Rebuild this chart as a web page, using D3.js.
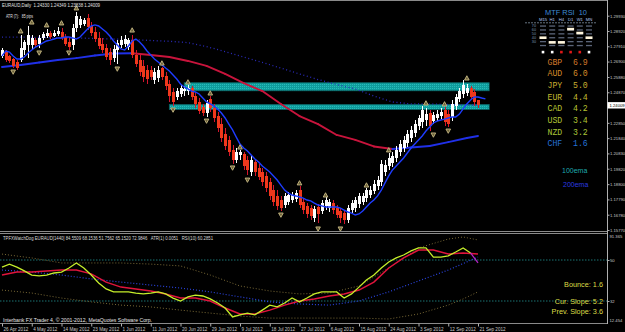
<!DOCTYPE html>
<html><head><meta charset="utf-8">
<script src="https://cdn.jsdelivr.net/npm/d3@7"></script>
<style>html,body{margin:0;padding:0;background:#000;overflow:hidden}text{white-space:pre}</style>
</head><body><svg id="c" width="625" height="332"></svg>
<script>
// ---------- DATA ----------
const opens=[1.2727,1.2760,1.2727,1.2707,1.2687,1.2700,1.2766,1.2799,1.2799,1.2832,
1.2806,1.2846,1.2859,1.2879,1.2859,1.2872,1.2885,1.2852,1.2819,1.2799,
1.2912,1.2932,1.2938,1.2978,1.2925,1.2885,1.2846,1.2806,1.2780,1.2753,
1.2713,1.2766,1.2799,1.2806,1.2786,1.2832,1.2733,1.2700,1.2661,1.2634,
1.2634,1.2568,1.2581,1.2647,1.2595,1.2542,1.2489,1.2456,1.2476,1.2495,
1.2495,1.2515,1.2462,1.2423,1.2390,1.2350,1.2443,1.2383,1.2330,1.2277,
1.2211,1.2172,1.2106,1.2040,1.2073,1.2079,1.2040,1.1960,1.2026,1.1987,
1.1960,1.1934,1.1894,1.1841,1.1802,1.1775,1.1742,1.1762,1.1775,1.1782,
1.1841,1.1762,1.1736,1.1722,1.1656,1.1729,1.1702,1.1736,1.1722,1.1755,
1.1722,1.1702,1.1689,1.1643,1.1709,1.1722,1.1749,1.1762,1.1788,1.1808,
1.1835,1.1868,1.1894,1.1960,1.2000,1.2020,1.2053,1.2092,1.2119,1.2152,
1.2185,1.2218,1.2264,1.2291,1.2304,1.2350,1.2297,1.2317,1.2330,1.2370,
1.2343,1.2324,1.2396,1.2443,1.2476,1.2482,1.2515,1.2489,1.2433];
const highs=[1.2780,1.2766,1.2733,1.2713,1.2700,1.2865,1.2832,1.2925,1.2865,1.2846,
1.2865,1.2885,1.2905,1.2892,1.2898,1.2918,1.2912,1.2872,1.2852,1.2938,
1.3017,1.2991,1.2978,1.3004,1.2951,1.2918,1.2885,1.2846,1.2806,1.2780,
1.2799,1.2832,1.2859,1.2865,1.2846,1.2865,1.2766,1.2733,1.2700,1.2667,
1.2661,1.2647,1.2661,1.2654,1.2621,1.2568,1.2515,1.2515,1.2535,1.2528,
1.2535,1.2528,1.2489,1.2449,1.2410,1.2436,1.2462,1.2410,1.2357,1.2317,
1.2251,1.2198,1.2139,1.2119,1.2106,1.2092,1.2066,1.2066,1.2040,1.2013,
1.1987,1.1960,1.1921,1.1874,1.1841,1.1802,1.1821,1.1828,1.1828,1.1841,
1.1868,1.1788,1.1755,1.1742,1.1736,1.1749,1.1775,1.1795,1.1782,1.1775,
1.1742,1.1722,1.1709,1.1742,1.1775,1.1795,1.1821,1.1821,1.1854,1.1868,
1.1907,1.1934,1.2040,1.2040,1.2086,1.2092,1.2132,1.2172,1.2198,1.2238,
1.2264,1.2304,1.2337,1.2396,1.2383,1.2370,1.2357,1.2370,1.2383,1.2390,
1.2370,1.2436,1.2476,1.2515,1.2568,1.2542,1.2528,1.2509,1.2435];
const lows=[1.2713,1.2687,1.2680,1.2647,1.2634,1.2687,1.2733,1.2713,1.2766,1.2786,
1.2780,1.2832,1.2846,1.2839,1.2852,1.2859,1.2832,1.2793,1.2766,1.2766,
1.2885,1.2912,1.2925,1.2898,1.2859,1.2819,1.2773,1.2747,1.2700,1.2667,
1.2687,1.2674,1.2780,1.2786,1.2766,1.2713,1.2654,1.2595,1.2555,1.2542,
1.2568,1.2542,1.2555,1.2568,1.2502,1.2423,1.2396,1.2436,1.2456,1.2462,
1.2469,1.2436,1.2383,1.2343,1.2330,1.2324,1.2357,1.2291,1.2224,1.2158,
1.2106,1.2066,1.2013,1.2020,1.2040,1.1974,1.1940,1.1934,1.1934,1.1907,
1.1868,1.1828,1.1775,1.1736,1.1709,1.1702,1.1722,1.1742,1.1755,1.1762,
1.1722,1.1683,1.1656,1.1643,1.1630,1.1623,1.1683,1.1709,1.1696,1.1683,
1.1656,1.1623,1.1617,1.1623,1.1683,1.1696,1.1722,1.1742,1.1762,1.1788,
1.1815,1.1841,1.1868,1.1934,1.1974,1.1993,1.2026,1.2066,1.2092,1.2125,
1.2158,1.2191,1.2238,1.2251,1.2264,1.2231,1.2277,1.2297,1.2310,1.2264,
1.2258,1.2297,1.2370,1.2423,1.2449,1.2462,1.2436,1.2396,1.2384];
const closes=[1.2766,1.2700,1.2694,1.2661,1.2647,1.2780,1.2819,1.2865,1.2846,1.2799,
1.2846,1.2872,1.2879,1.2852,1.2879,1.2892,1.2846,1.2806,1.2786,1.2912,
1.2991,1.2971,1.2965,1.2918,1.2879,1.2839,1.2793,1.2766,1.2720,1.2700,
1.2773,1.2813,1.2832,1.2839,1.2832,1.2733,1.2674,1.2621,1.2588,1.2575,
1.2588,1.2621,1.2634,1.2588,1.2528,1.2462,1.2423,1.2495,1.2515,1.2509,
1.2515,1.2456,1.2410,1.2363,1.2350,1.2416,1.2383,1.2317,1.2251,1.2185,
1.2132,1.2092,1.2040,1.2092,1.2092,1.2000,1.1974,1.2040,1.1960,1.1927,
1.1894,1.1854,1.1802,1.1762,1.1736,1.1722,1.1802,1.1808,1.1808,1.1821,
1.1742,1.1709,1.1683,1.1669,1.1716,1.1683,1.1755,1.1775,1.1762,1.1709,
1.1676,1.1656,1.1643,1.1722,1.1755,1.1775,1.1802,1.1802,1.1841,1.1841,
1.1881,1.1907,1.2013,1.2007,1.2053,1.2066,1.2106,1.2145,1.2172,1.2211,
1.2238,1.2277,1.2317,1.2370,1.2343,1.2264,1.2337,1.2343,1.2357,1.2291,
1.2277,1.2410,1.2456,1.2495,1.2535,1.2515,1.2456,1.2423,1.2401];

const fastMA=[1.2727,1.2760,1.2753,1.2727,1.2707,1.2707,1.2720,1.2747,1.2766,1.2786,
1.2799,1.2813,1.2826,1.2832,1.2839,1.2846,1.2846,1.2852,1.2852,1.2846,
1.2839,1.2852,1.2879,1.2905,1.2925,1.2932,1.2925,1.2905,1.2885,1.2859,
1.2826,1.2799,1.2773,1.2766,1.2793,1.2826,1.2839,1.2819,1.2793,1.2760,
1.2733,1.2707,1.2687,1.2667,1.2647,1.2628,1.2601,1.2575,1.2542,1.2522,
1.2509,1.2495,1.2489,1.2476,1.2449,1.2423,1.2410,1.2396,1.2377,1.2350,
1.2317,1.2277,1.2238,1.2191,1.2145,1.2119,1.2099,1.2073,1.2046,1.2026,
1.2000,1.1980,1.1960,1.1934,1.1907,1.1874,1.1841,1.1821,1.1808,1.1802,
1.1795,1.1788,1.1775,1.1769,1.1755,1.1742,1.1736,1.1729,1.1729,1.1729,
1.1729,1.1722,1.1709,1.1696,1.1689,1.1676,1.1683,1.1702,1.1729,1.1755,
1.1775,1.1802,1.1841,1.1888,1.1934,1.1974,1.2000,1.2026,1.2053,1.2086,
1.2119,1.2145,1.2172,1.2198,1.2231,1.2258,1.2284,1.2297,1.2304,1.2310,
1.2317,1.2324,1.2324,1.2343,1.2377,1.2410,1.2436,1.2456,1.2456,1.2449,1.2443];

const maIdx=[0,5,10,15,20,25,30,35,40,45,50,55,60,65,70,75,80,85,90,95,100,105,110,115,120,125,128];
const slowMA=[1.2654,1.2667,1.2684,1.2700,1.2713,1.2730,1.2743,1.2745,1.2733,1.2720,1.2694,1.2661,1.2608,1.2548,1.2495,1.2410,1.2330,1.2277,1.2205,1.2172,1.2129,1.2112,1.2122,1.2132,1.2158,1.2185,1.2198];
const trendMA=[1.2852,1.2852,1.2849,1.2846,1.2846,1.2842,1.2839,1.2836,1.2829,1.2824,1.2815,1.2789,1.2756,1.2720,1.2684,1.2647,1.2608,1.2571,1.2538,1.2509,1.2462,1.2423,1.2410,1.2410,1.2406,1.2403,1.2403];

const upIdx=[5,8,12,16,20,35,43,50,56,64,80,87,98,104,114,119,125];
const upPrice=[1.2892,1.2951,1.2932,1.2945,1.3044,1.2898,1.2680,1.2555,1.2482,1.2125,1.1888,1.1808,1.1874,1.2106,1.2416,1.2410,1.2581];
const dnIdx=[3,10,18,31,46,55,62,66,75,85,91,116,120];
const dnPrice=[1.2621,1.2747,1.2747,1.2641,1.2370,1.2297,1.1987,1.1907,1.1676,1.1584,1.1584,1.2205,1.2231];

const zoneStart=[49,45], zoneEnd=[131,131], zoneTop=[1.2550,1.2406], zoneBottom=[1.2497,1.2373];

const priceTicks=[1.2993,1.2892,1.2791,1.2690,1.2588,1.2487,1.2386,1.2285,1.2184,1.2083,1.1982,1.1880,1.1779,1.1678,1.1577];
const lastPrice=1.24009;
const dateIdx=[0,8,16,24,32,40,48,56,64,72,80,88,96,104,112,120,128];
const dateLabels=["26 Apr 2012","4 May 2012","14 May 2012","23 May 2012","1 Jun 2012","11 Jun 2012","20 Jun 2012","29 Jun 2012","9 Jul 2012","18 Jul 2012","27 Jul 2012","6 Aug 2012","15 Aug 2012","24 Aug 2012","3 Sep 2012","12 Sep 2012","21 Sep 2012"];

// sub-window indicator
const yellowIdx=d3.range(0,129,2);
const yellowVal=[46.9,48.2,46.9,45.2,43.4,43.0,43.4,44.3,44.7,46.5,
48.7,46.5,43.4,39.9,37.3,36.0,36.0,36.0,35.5,35.1,
35.5,36.0,35.1,33.3,32.0,33.8,34.6,34.2,32.9,31.1,
28.9,25.0,25.9,26.7,25.9,28.0,30.2,29.4,31.1,33.3,
31.6,33.3,35.1,36.0,36.0,36.0,33.3,35.1,38.1,41.2,
43.4,46.5,49.1,50.9,52.2,54.0,55.3,55.3,51.3,51.3,
51.8,53.5,55.3,53.1,48.7];
const redIdx=d3.range(0,129,4);
const redVal=[43.4,44.7,44.7,45.2,45.6,45.6,43.9,40.3,38.1,37.3,36.4,35.1,33.3,33.3,32.0,28.9,26.3,26.3,28.0,30.2,32.0,32.9,34.2,35.1,36.8,40.3,46.5,50.9,54.4,54.4,52.6,53.1,52.6];
const blueIdx=d3.range(0,129,8);
const blueVal=[45.6,44.7,43.4,41.7,40.3,39.0,37.7,36.0,33.8,31.6,30.7,30.2,32.0,36.0,40.8,45.6,51.3];
const bandIdx=[0,8,16,24,32,40,48,56,64,72,80,88,96,104,112,120,124,128];
const bandUpper=[52.6,50.9,48.7,48.7,48.7,48.2,47.4,43.4,38.6,36.4,35.1,35.5,38.6,46.5,55.3,59.2,60.1,58.8];
const bandLower=[36.8,35.5,33.3,31.6,30.2,29.4,28.0,26.7,25.4,24.5,24.5,24.5,24.5,24.1,26.3,30.2,32.9,36.0];
const subLevels=[50,32];

// MTF RSI and currency strength
const tfs=["M15","H1","H4","D1","W1","MN"];
const tfRsi=[40,28,28,62,52,40];
const tfUp=[true,true,false,false,false,true];
const rsiRows=[70,60,50,40,30,20];
const currencies=["GBP","AUD","JPY","EUR","CAD","USD","NZD","CHF"];
const strength=[6.9,6.0,5.0,4.4,4.2,3.4,3.2,1.6];
const curColors=["#d2782a","#d68c28","#c8ae30","#c2ba30","#b8c232","#b2c434","#aac438","#2472d8"];

// ---------- DRAW ----------
const svg=d3.select('#c');
const F="'Liberation Sans',Arial,sans-serif";
svg.append('rect').attr('width',625).attr('height',332).attr('fill','#000');
const defs=svg.append('defs');
defs.append('clipPath').attr('id','cm').append('rect').attr('x',0).attr('y',1).attr('width',607).attr('height',230);
defs.append('clipPath').attr('id','cs').append('rect').attr('x',0).attr('y',234).attr('width',607).attr('height',89);
const pat=defs.append('pattern').attr('id','teal').attr('width',2).attr('height',2).attr('patternUnits','userSpaceOnUse');
pat.append('rect').attr('width',2).attr('height',2).attr('fill','#109c9c');
pat.append('rect').attr('width',1).attr('height',1).attr('fill','#26bcbc');

const x=d3.scaleLinear().domain([0,128]).range([2,478]);
const y=d3.scaleLinear().domain([1.1577,1.2993]).range([230,15.7]);
const ys=d3.scaleLinear().domain([32,50]).range([301,260]);

// frame
const fr=svg.append('g').attr('stroke','#8a8a8a').attr('stroke-width',1).attr('shape-rendering','crispEdges');
fr.append('line').attr('x1',0).attr('x2',607).attr('y1',0.5).attr('y2',0.5);
fr.append('line').attr('x1',0).attr('x2',607).attr('y1',231.5).attr('y2',231.5);
fr.append('line').attr('x1',0).attr('x2',607).attr('y1',233.5).attr('y2',233.5);
fr.append('line').attr('x1',0).attr('x2',607).attr('y1',323.5).attr('y2',323.5);
fr.append('line').attr('x1',607.5).attr('x2',607.5).attr('y1',0).attr('y2',324).attr('stroke','#b0b0b0');

const main=svg.append('g').attr('clip-path','url(#cm)');
// zones
main.selectAll('rect.zone').data(zoneStart).join('rect').attr('class','zone')
 .attr('x',(d)=>x(d)).attr('width',(d,i)=>x(zoneEnd[i])-x(d))
 .attr('y',(d,i)=>y(zoneTop[i])).attr('height',(d,i)=>y(zoneBottom[i])-y(zoneTop[i]))
 .attr('fill','url(#teal)').attr('stroke','#0a6464').attr('stroke-width',0.8);

// trend (dotted) MA
main.append('path').datum(trendMA).attr('fill','none').attr('stroke','#2a2ab8').attr('stroke-width',1.3)
 .attr('stroke-dasharray','1,2.6')
 .attr('d',d3.line().x((d,i)=>x(maIdx[i])).y(d=>y(d)));

// slow colour-changing MA
for(let k=0;k<slowMA.length-1;k++){
  const up=slowMA[k+1]>=slowMA[k];
  main.append('line').attr('x1',x(maIdx[k])).attr('y1',y(slowMA[k])).attr('x2',x(maIdx[k+1])).attr('y2',y(slowMA[k+1]))
   .attr('stroke',up?'#2030e8':'#c8143c').attr('stroke-width',1.9).attr('stroke-linecap','round');
}

// candles
const bars=opens.map((o,i)=>({i,o,h:highs[i],l:lows[i],c:closes[i]}));
const cg=main.append('g').attr('shape-rendering','crispEdges');
cg.selectAll('line.w').data(bars).join('line').attr('class','w')
 .attr('x1',d=>Math.round(x(d.i))+0.5).attr('x2',d=>Math.round(x(d.i))+0.5)
 .attr('y1',d=>y(d.h)).attr('y2',d=>y(d.l))
 .attr('stroke',d=>d.c>=d.o?'#ffffff':'#d4142c').attr('stroke-width',1);
cg.selectAll('rect.b').data(bars).join('rect').attr('class','b')
 .attr('x',d=>Math.round(x(d.i))-1).attr('width',3)
 .attr('y',d=>y(Math.max(d.o,d.c))).attr('height',d=>Math.max(1,Math.abs(y(d.o)-y(d.c))))
 .attr('fill',d=>d.c>=d.o?'#ffffff':'#f0381c');

// fast MA
main.append('path').datum(fastMA).attr('fill','none').attr('stroke','#1e3cff').attr('stroke-width',1.4)
 .attr('d',d3.line().x((d,i)=>x(i)).y(d=>y(d)));

// fractal markers
const mk=main.append('g').attr('fill','#6a6038').attr('stroke','#c8ba84').attr('stroke-width',0.9);
mk.selectAll('path.u').data(upIdx).join('path')
 .attr('d',(d,i)=>{const cx=x(d),cy=y(upPrice[i]);return `M${cx-2.3},${cy+2}L${cx},${cy-2.3}L${cx+2.3},${cy+2}Z`;});
mk.selectAll('path.d').data(dnIdx).join('path')
 .attr('d',(d,i)=>{const cx=x(d),cy=y(dnPrice[i]);return `M${cx-2.3},${cy-2}L${cx},${cy+2.3}L${cx+2.3},${cy-2}Z`;});

// price axis
const AX=4.2;
const pa=svg.append('g').attr('transform','translate(607.5,0)')
 .call(d3.axisRight(y).tickValues(priceTicks.filter(p=>Math.abs(y(p)-y(lastPrice))>6)).tickSize(2).tickFormat(d3.format('.5f')));
pa.select('.domain').remove();
pa.selectAll('line').attr('stroke','#b0b0b0');
pa.selectAll('text').attr('fill','#c8c8c8').attr('font-size',AX).attr('font-family',F).attr('x',2.5);
svg.append('rect').attr('x',607.5).attr('y',y(lastPrice)-3.2).attr('width',17.5).attr('height',6.4).attr('fill','#ffffff');
svg.append('text').attr('x',609.5).attr('y',y(lastPrice)+1.5).text(d3.format('.5f')(lastPrice))
 .attr('fill','#000').attr('font-size',AX).attr('font-family',F);

// texts main
svg.append('text').attr('x',2).attr('y',6.8).text('EURAUD,Daily  1.24330 1.24349 1.23838 1.24009')
 .attr('fill','#e0e0e0').attr('font-size',4.8).attr('font-family',F).attr('textLength',98).attr('lengthAdjust','spacingAndGlyphs');
svg.append('text').attr('x',6).attr('y',17.5).text('ATR (7):   85 pips')
 .attr('fill','#e0e0e0').attr('font-size',4.8).attr('font-family',F).attr('textLength',27).attr('lengthAdjust','spacingAndGlyphs');

// MTF RSI panel
svg.append('text').attr('x',566).attr('y',14.8).attr('text-anchor','middle').text('MTF RSI  10')
 .attr('fill','#3d8ad6').attr('font-size',7.6).attr('font-family',F).attr('textLength',42).attr('lengthAdjust','spacingAndGlyphs');
const tx=d3.scalePoint().domain(tfs).range([543,589]);
const ry=d3.scaleLinear().domain([20,70]).range([45.5,26]);
svg.selectAll('text.tf').data(tfs).join('text').attr('class','tf').attr('x',d=>tx(d)).attr('y',20.5)
 .attr('text-anchor','middle').text(d=>d).attr('fill','#b4c8f0').attr('font-size',4.2).attr('font-family',F);
svg.append('line').attr('x1',525).attr('x2',597).attr('y1',22.8).attr('y2',22.8).attr('stroke','#8090a0')
 .attr('stroke-width',0.8).attr('stroke-dasharray','2,1');
svg.selectAll('text.rr').data(rsiRows.slice(0,5)).join('text').attr('class','rr').attr('x',536).attr('y',d=>ry(d)+1.4)
 .attr('text-anchor','end').text(d=>d).attr('fill','#7890b0').attr('font-size',3.8).attr('font-family',F);
const cells=[];tfs.forEach(t=>rsiRows.forEach(r=>cells.push({t,r})));
svg.selectAll('rect.cell').data(cells).join('rect').attr('class','cell')
 .attr('x',d=>tx(d.t)-3).attr('y',d=>ry(d.r)-0.6).attr('width',6).attr('height',1.3).attr('fill','#5a6478');
svg.selectAll('rect.hl').data(tfs).join('rect').attr('class','hl')
 .attr('x',d=>tx(d)-3.5).attr('y',(d,i)=>ry(tfRsi[i])-1.3).attr('width',7).attr('height',2.6).attr('fill','#fff6dc');
svg.selectAll('rect.dot').data(tfs).join('rect').attr('class','dot')
 .attr('x',d=>tx(d)-1.3).attr('y',50.8).attr('width',2.6).attr('height',2.6).attr('fill',(d,i)=>tfUp[i]?'#ffffff':'#e01818');

// currency strength
const cy=d3.scalePoint().domain(currencies).range([64.8,146.4]);
svg.selectAll('text.cn').data(currencies).join('text').attr('class','cn').attr('x',547.5).attr('y',d=>cy(d))
 .text(d=>d).attr('fill',(d,i)=>curColors[i]).attr('font-size',8.2).attr('font-family',"'Liberation Mono',monospace");
svg.selectAll('text.cv').data(currencies).join('text').attr('class','cv').attr('x',573).attr('y',d=>cy(d))
 .text((d,i)=>d3.format('.1f')(strength[i])).attr('fill',(d,i)=>curColors[i]).attr('font-size',8.2).attr('font-family',"'Liberation Mono',monospace");
svg.append('text').attr('x',562).attr('y',173.3).text('100ema').attr('fill','#1eaab0').attr('font-size',7).attr('font-family',F);
svg.append('text').attr('x',563).attr('y',186.6).text('200ema').attr('fill','#2a3ae0').attr('font-size',7).attr('font-family',F);

// ---------- SUB WINDOW ----------
const sub=svg.append('g').attr('clip-path','url(#cs)');
sub.selectAll('line.lv').data(subLevels).join('line').attr('x1',0).attr('x2',607).attr('y1',d=>ys(d)).attr('y2',d=>ys(d))
 .attr('stroke','#1e8080').attr('stroke-width',0.9).attr('stroke-dasharray','1.5,1.5');
const sl=(idx)=>d3.line().x((d,i)=>x(idx[i])).y(d=>ys(d));
sub.append('path').datum(bandUpper).attr('d',sl(bandIdx)).attr('fill','none').attr('stroke','#7a6a36').attr('stroke-width',1).attr('stroke-dasharray','1,2');
sub.append('path').datum(bandLower).attr('d',sl(bandIdx)).attr('fill','none').attr('stroke','#7a6a36').attr('stroke-width',1).attr('stroke-dasharray','1,2');
sub.append('path').datum(blueVal).attr('d',sl(blueIdx)).attr('fill','none').attr('stroke','#2a44e0').attr('stroke-width',1.2).attr('stroke-dasharray','1,2');
sub.append('path').datum(redVal).attr('d',sl(redIdx)).attr('fill','none').attr('stroke','#e0143c').attr('stroke-width',1.5);
const yl=yellowVal.length;
sub.append('path').datum(yellowVal.slice(0,yl-1)).attr('d',sl(yellowIdx)).attr('fill','none').attr('stroke','#c6ee2a').attr('stroke-width',1.3);
sub.append('path').datum(yellowVal.slice(yl-2)).attr('d',sl(yellowIdx.slice(yl-2))).attr('fill','none').attr('stroke','#b824c8').attr('stroke-width',1.3);

const sa=svg.append('g').attr('transform','translate(607.5,0)').call(d3.axisRight(ys).tickValues(subLevels).tickSize(2));
sa.select('.domain').remove();
sa.selectAll('line').attr('stroke','#b0b0b0');
sa.selectAll('text').attr('fill','#c8c8c8').attr('font-size',AX).attr('font-family',F).attr('x',2.5);
svg.append('text').attr('x',609.5).attr('y',238).text('91.365').attr('fill','#c8c8c8').attr('font-size',AX).attr('font-family',F);
svg.append('text').attr('x',609.5).attr('y',322).text('12.454').attr('fill','#c8c8c8').attr('font-size',AX).attr('font-family',F);

svg.append('text').attr('x',3).attr('y',239.8).text('TPFXWatchDog EURAUD[1440] 84.5509 68.1536 51.7562 65.1520 72.9846   ATR(1) 0.0051   RSI(10) 60.2851')
 .attr('fill','#d8d8d8').attr('font-size',4.8).attr('font-family',F).attr('textLength',210).attr('lengthAdjust','spacingAndGlyphs');
const st=[['Bounce: 1.6',286.5],['Cur. Slope: 5.2',304],['Prev. Slope: 3.6',313.6]];
svg.selectAll('text.st').data(st).join('text').attr('class','st').attr('x',603).attr('y',d=>d[1]).attr('text-anchor','end')
 .text(d=>d[0]).attr('fill','#dcdc46').attr('font-size',7.3).attr('font-family',F);
svg.append('text').attr('x',3).attr('y',321.6).text('Interbank FX Trader 4, © 2001-2012, MetaQuotes Software Corp.')
 .attr('fill','#e8e8e8').attr('font-size',5).attr('font-family',F).attr('textLength',149).attr('lengthAdjust','spacingAndGlyphs');

// date axis
const da=svg.append('g').attr('transform','translate(0,323.5)')
 .call(d3.axisBottom(x).tickValues(dateIdx).tickSize(3).tickFormat((d,i)=>dateLabels[i]));
da.select('.domain').remove();
da.selectAll('line').attr('stroke','#b0b0b0');
da.selectAll('text').attr('fill','#c8c8c8').attr('font-size',4.6).attr('font-family',F)
 .attr('text-anchor','start').attr('dx',1).attr('y',4.2).attr('dy','0.71em');
</script></body></html>
